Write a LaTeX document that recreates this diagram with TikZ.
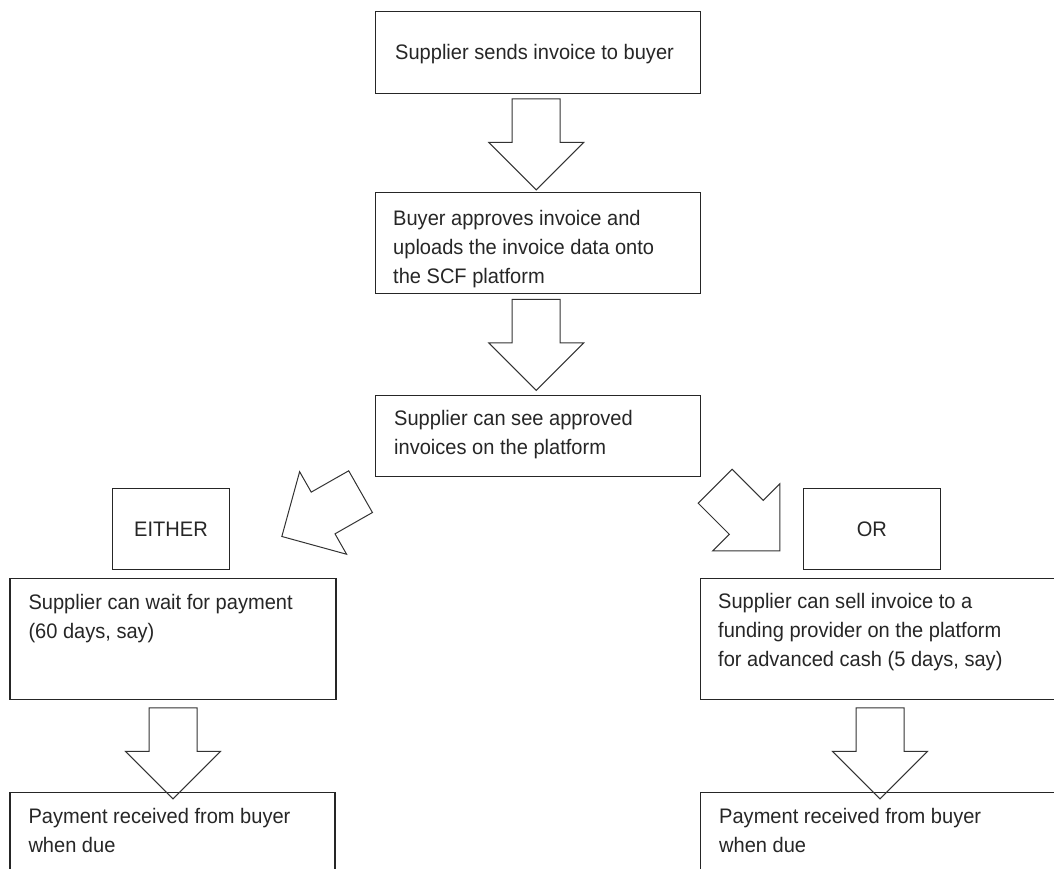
\documentclass[tikz,border=0pt]{standalone}
\usepackage{fontspec}
\setmainfont[FakeStretch=0.955]{Liberation Sans}
\usetikzlibrary{shapes.arrows}

\tikzset{box/.style={draw=black!85, line width=1.4pt, anchor=north west, inner sep=0pt, font=\fontsize{21}{29}\selectfont, text=black!85},
  txt/.style={anchor=north west, inner sep=0pt, align=left, text=black!85, font=\fontsize{21}{29}\selectfont},
  blockarrow/.style={single arrow, draw=black!80, line width=1pt, minimum height=91pt, minimum width=94pt, single arrow head extend=23.5pt, single arrow head indent=0pt, inner xsep=0pt, inner ysep=23.5pt, anchor=tail}}

\begin{document}
\begin{tikzpicture}[x=1pt, y=-1pt]
            \clip (0,0) rectangle (1054,868);
            \node[box, minimum width=325pt, minimum height=81.5pt] (sends) at (375,11) {};
            \node[box, minimum width=325pt, minimum height=101pt] (approves) at (375,192) {};
            \node[box, minimum width=325pt, minimum height=81pt] (see) at (375,395) {};
            \node[box, minimum width=117.4pt, minimum height=81pt] (either) at (111.6,488) {EITHER};
            \node[box, minimum width=137pt, minimum height=81pt] (or) at (802.6,488) {OR};
            \node[box, minimum width=326pt, minimum height=121.5pt] (wait) at (9.3,577.5) {};
            \node[box, minimum width=400pt, minimum height=121.5pt] (sell) at (700,577.5) {};
            \node[box, minimum width=325pt, minimum height=120pt] (paidL) at (9.3,791.5) {};
            \node[box, minimum width=400pt, minimum height=120pt] (paidR) at (700,791.5) {};
            % texts
            \node[txt] (sendsT) at ([xshift=20pt,yshift=-33.5pt]sends.north west) {Supplier sends invoice to buyer};
            \node[txt] (approvesT) at ([xshift=18pt,yshift=-18pt]approves.north west) {Buyer approves invoice and\\uploads the invoice data onto\\the SCF platform};
            \node[txt] (seeT) at ([xshift=19pt,yshift=-15pt]see.north west) {Supplier can see approved\\invoices on the platform};
            \node[txt] (waitT) at ([xshift=19pt,yshift=-16.5pt]wait.north west) {Supplier can wait for payment\\(60 days, say)};
            \node[txt] (sellT) at ([xshift=18pt,yshift=-16pt]sell.north west) {Supplier can sell invoice to a\\funding provider on the platform\\for advanced cash (5 days, say)};
            \node[txt] (paidLT) at ([xshift=19pt,yshift=-17pt]paidL.north west) {Payment received from buyer\\when due};
            \node[txt] (paidRT) at ([xshift=19pt,yshift=-17pt]paidR.north west) {Payment received from buyer\\when due};
            % block arrows
            \node[blockarrow, rotate=-90] (a1) at ([xshift=-2pt,yshift=-4.5pt]sends.south) {};
            \node[blockarrow, rotate=-90] (a2) at ([xshift=-2pt,yshift=-4.5pt]approves.south) {};
            \node[blockarrow, rotate=209.65, minimum height=90.6pt] (aL) at ([xshift=-14pt,yshift=-14pt]see.south west) {};
            \node[blockarrow, rotate=-45, minimum height=91.5pt] (aR) at ([xshift=13.4pt,yshift=-8.5pt]see.south east) {};
            \node[blockarrow, rotate=-90] (aW) at ([yshift=-7pt]wait.south) {};
            \node[blockarrow, rotate=-90] (aS) at ([xshift=180pt,yshift=-7pt]sell.south west) {};
        \end{tikzpicture}
\end{document}
